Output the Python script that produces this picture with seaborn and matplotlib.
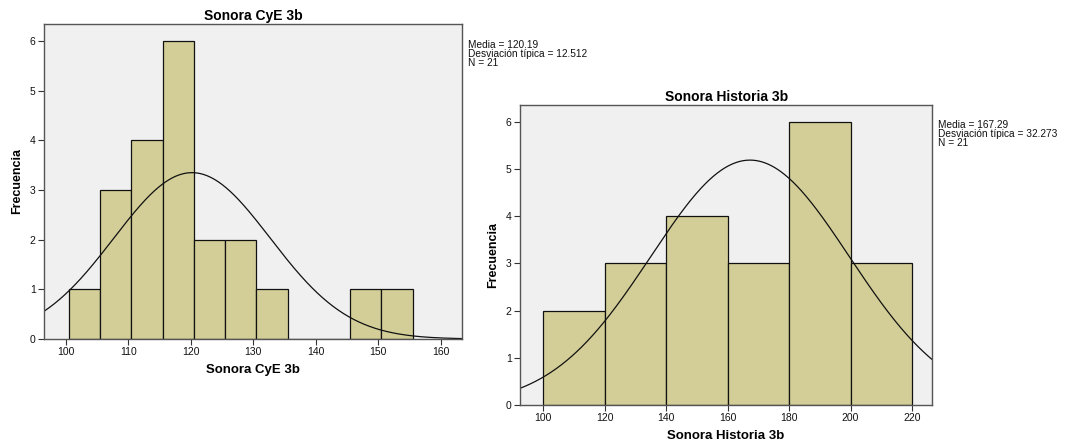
import numpy as np
import pandas as pd
import matplotlib
matplotlib.use("Agg")
import matplotlib.pyplot as plt
import seaborn as sns

# ---- data ----
cye_edges = [100.5, 105.5, 110.5, 115.5, 120.5, 125.5, 130.5, 135.5, 140.5, 145.5, 150.5, 155.5]
cye_counts = [1, 3, 4, 6, 2, 2, 1, 0, 0, 1, 1]
cye_mean, cye_sd, cye_n = 120.19, 12.512, 21

his_edges = [100, 120, 140, 160, 180, 200, 220]
his_counts = [2, 3, 4, 3, 6, 3]
his_mean, his_sd, his_n = 167.29, 32.273, 21

cye_xticks = [100, 110, 120, 130, 140, 150, 160]
his_xticks = [100, 120, 140, 160, 180, 200, 220]
yticks = [0, 1, 2, 3, 4, 5, 6]

sns.set_theme(style="white")
plt.rcParams['font.family'] = ['Liberation Sans', 'DejaVu Sans']
plt.rcParams['text.color'] = 'black'
plt.rcParams['axes.labelcolor'] = 'black'
plt.rcParams['xtick.color'] = 'black'
plt.rcParams['ytick.color'] = 'black'

fig = plt.figure(figsize=(10.65, 4.41), dpi=100)
ax1 = fig.add_axes([0.0413, 0.2313, 0.3925, 0.7143])
ax2 = fig.add_axes([0.4883, 0.0816, 0.3869, 0.6803])

BAR = "#D3CE97"
BG = "#F0F0F0"


def panel(ax, edges, counts, mean, sd, n, xlim, ylim, xticks, title):
    ax.set_facecolor(BG)
    e = np.array(edges, dtype=float)
    centers = list((e[:-1] + e[1:]) / 2)
    df = pd.DataFrame({"x": centers, "w": counts})
    sns.histplot(data=df, x="x", weights="w", bins=list(edges), ax=ax,
                 color=BAR, alpha=1, edgecolor="#111111", linewidth=0.9)
    bw = e[1] - e[0]
    xs = np.linspace(xlim[0], xlim[1], 400)
    ys = n * bw / (sd * np.sqrt(2 * np.pi)) * np.exp(-0.5 * ((xs - mean) / sd) ** 2)
    sns.lineplot(x=xs, y=ys, ax=ax, color="#111111", linewidth=0.9)
    ax.set_xlim(*xlim)
    ax.set_ylim(*ylim)
    ax.set_xticks(xticks)
    ax.set_yticks(yticks)
    ax.tick_params(axis="both", labelsize=7.5, length=4, width=0.8, color="#333333",
                   bottom=True, left=True, pad=2, labelcolor="#111111")
    for s in ax.spines.values():
        s.set_color("#555555")
        s.set_linewidth(1.0)
    ax.set_title(title, fontsize=10, fontweight="bold", pad=3, color="black")
    ax.set_xlabel(title, fontsize=9.5, fontweight="bold", labelpad=5, color="black")
    ax.set_ylabel("Frecuencia", fontsize=9, fontweight="bold", labelpad=5, color="black")
    ax.grid(False)


panel(ax1, cye_edges, cye_counts, cye_mean, cye_sd, cye_n, (96.5, 163.4), (0, 6.34),
      cye_xticks, "Sonora CyE 3b")
panel(ax2, his_edges, his_counts, his_mean, his_sd, his_n, (92.5, 226.5), (0, 6.36),
      his_xticks, "Sonora Historia 3b")

fig.text(468 / 1065, 1 - 40 / 441,
         f"Media = {cye_mean:.2f}\nDesviación típica = {cye_sd:.3f}\nN = {cye_n}",
         fontsize=7.3, va="top", ha="left", linespacing=0.9, color="#111111")
fig.text(938 / 1065, 1 - 120 / 441,
         f"Media = {his_mean:.2f}\nDesviación típica = {his_sd:.3f}\nN = {his_n}",
         fontsize=7.3, va="top", ha="left", linespacing=0.9, color="#111111")

fig.savefig("out.png", dpi=100, facecolor="white")
